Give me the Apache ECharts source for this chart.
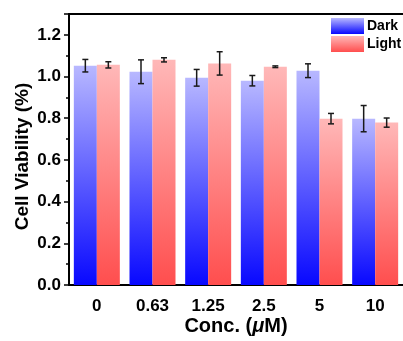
<!DOCTYPE html>
<html>
<head>
<meta charset="utf-8">
<script src="https://cdn.jsdelivr.net/npm/echarts@6/dist/echarts.min.js"></script>
<style>
  html, body { margin: 0; padding: 0; background: #fff; }
  #chart { width: 403px; height: 341px; }
</style>
</head>
<body>
<div id="chart"></div>
<script>
// data
const categories = ['0', '0.63', '1.25', '2.5', '5', '10'];
const darkValues = [1.052, 1.023, 0.994, 0.980, 1.028, 0.798];
const darkErrors = [0.030, 0.057, 0.040, 0.025, 0.033, 0.063];
const lightValues = [1.056, 1.080, 1.063, 1.047, 0.798, 0.779];
const lightErrors = [0.015, 0.010, 0.056, 0.004, 0.025, 0.022];
const yTicks = [0, 0.2, 0.4, 0.6, 0.8, 1.0, 1.2];

const FONT = '"Liberation Sans", Arial, sans-serif';
const BAR_W = 23;

const darkGrad = new echarts.graphic.LinearGradient(0, 0, 0, 1, [
  { offset: 0, color: '#b8b8ff' },
  { offset: 1, color: '#0808ff' }
]);
const lightGrad = new echarts.graphic.LinearGradient(0, 0, 0, 1, [
  { offset: 0, color: '#ffb8b8' },
  { offset: 1, color: '#ff4e4e' }
]);

// error bar drawn at the bar's centre, shifted left/right of the category centre
function errorBars(values, errors, shift) {
  return {
    type: 'custom',
    xAxisIndex: 0,
    yAxisIndex: 0,
    silent: true,
    z: 5,
    data: values.map((v, i) => [i, v - errors[i], v + errors[i]]),
    renderItem: function (params, api) {
      const lo = api.coord([api.value(0), api.value(1)]);
      const hi = api.coord([api.value(0), api.value(2)]);
      const x = lo[0] + shift;
      const cap = 3;
      const style = { stroke: '#1a1a1a', lineWidth: 1.5 };
      return {
        type: 'group',
        children: [
          { type: 'line', shape: { x1: x, y1: lo[1], x2: x, y2: hi[1] }, style: style },
          { type: 'line', shape: { x1: x - cap, y1: lo[1], x2: x + cap, y2: lo[1] }, style: style },
          { type: 'line', shape: { x1: x - cap, y1: hi[1], x2: x + cap, y2: hi[1] }, style: style }
        ]
      };
    }
  };
}

const chart = echarts.init(document.getElementById('chart'));
chart.setOption({
  animation: false,
  textStyle: { fontFamily: FONT },
  grid: { left: 69, top: 14, width: 336, height: 272 },
  legend: {
    left: 331,
    top: 18,
    padding: 0,
    orient: 'vertical',
    itemWidth: 33,
    itemHeight: 16,
    itemGap: 2,
    icon: 'rect',
    align: 'left',
    textStyle: { fontFamily: FONT, fontWeight: 'bold', fontSize: 14, color: '#000', padding: [0, 0, 0, -2] },
    data: ['Dark', 'Light']
  },
  xAxis: [
    {
      type: 'category',
      data: categories,
      position: 'bottom',
      axisLine: { lineStyle: { color: '#000', width: 2 } },
      axisTick: { alignWithLabel: true, length: 5, lineStyle: { color: '#000', width: 1.5 } },
      axisLabel: { color: '#000', fontWeight: 'bold', fontSize: 17, margin: 13, fontFamily: FONT },
      name: 'Conc. ({i|μ}M)',
      nameLocation: 'middle',
      nameGap: 31,
      nameMoveOverlap: false,
      nameTextStyle: {
        color: '#000', fontWeight: 'bold', fontSize: 20, fontFamily: FONT,
        rich: { i: { fontStyle: 'italic', fontWeight: 'bold', fontSize: 20, color: '#000', fontFamily: FONT } }
      }
    },
    {
      // minor ticks on the group boundaries
      type: 'category',
      data: categories,
      position: 'bottom',
      axisLine: { show: false },
      axisTick: { length: 3, lineStyle: { color: '#000', width: 1.5 } },
      axisLabel: { show: false }
    },
    {
      // top frame line
      type: 'category',
      data: categories,
      position: 'top',
      axisLine: { lineStyle: { color: '#000', width: 2 } },
      axisTick: { show: false },
      axisLabel: { show: false }
    }
  ],
  yAxis: {
    type: 'value',
    min: 0,
    max: 1.3,
    interval: 0.2,
    splitLine: { show: false },
    axisLine: { show: true, lineStyle: { color: '#000', width: 2 } },
    axisTick: { show: true, length: 5, lineStyle: { color: '#000', width: 1.5 } },
    minorTick: { show: true, splitNumber: 2, length: 3, lineStyle: { color: '#000', width: 1.5 } },
    axisLabel: {
      color: '#000', fontWeight: 'bold', fontSize: 17, margin: 8, fontFamily: FONT,
      formatter: v => yTicks.some(t => Math.abs(t - v) < 1e-6) ? v.toFixed(1) : ''
    },
    name: 'Cell Viability (%)',
    nameLocation: 'middle',
    nameGap: 37,
    nameMoveOverlap: false,
    nameTextStyle: { color: '#000', fontWeight: 'bold', fontSize: 19, fontFamily: FONT, padding: [0, 14, 0, 0] }
  },
  series: [
    {
      name: 'Dark',
      type: 'bar',
      data: darkValues,
      barWidth: BAR_W,
      barGap: '0%',
      itemStyle: { color: darkGrad }
    },
    {
      name: 'Light',
      type: 'bar',
      data: lightValues,
      barWidth: BAR_W,
      barGap: '0%',
      itemStyle: { color: lightGrad }
    },
    errorBars(darkValues, darkErrors, -BAR_W / 2),
    errorBars(lightValues, lightErrors, BAR_W / 2)
  ]
});
</script>
</body>
</html>
